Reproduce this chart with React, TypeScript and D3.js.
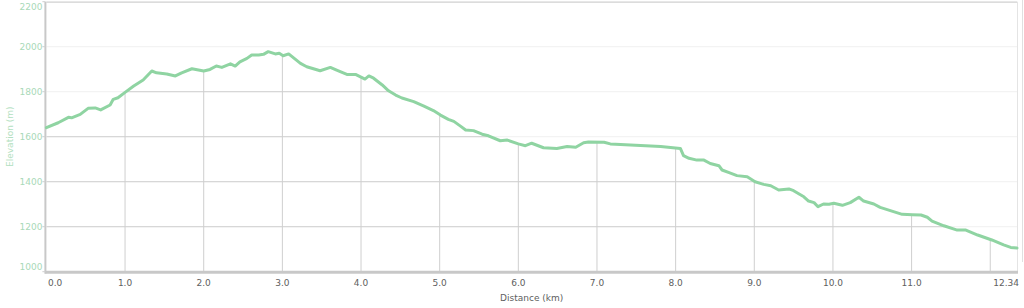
import React from "react";
import * as d3 from "d3";

const distanceKm = [
  0, 0.15, 0.28, 0.32, 0.43, 0.53, 0.62, 0.69, 0.81, 0.85, 0.91, 1.0, 1.11, 1.23, 1.34, 1.4, 1.53, 1.64,
  1.72, 1.85, 2.0, 2.08, 2.16, 2.23, 2.34, 2.4, 2.46, 2.55, 2.61, 2.7, 2.76, 2.82, 2.91, 2.96, 3.01, 3.08,
  3.23, 3.31, 3.48, 3.61, 3.69, 3.82, 3.93, 4.05, 4.1, 4.16, 4.27, 4.35, 4.44, 4.52, 4.67, 4.8, 4.92, 5.01,
  5.11, 5.18, 5.26, 5.33, 5.43, 5.54, 5.62, 5.77, 5.86, 6.0, 6.09, 6.17, 6.32, 6.49, 6.62, 6.73, 6.83, 6.89,
  7.09, 7.17, 7.81, 8.06, 8.1, 8.17, 8.27, 8.36, 8.44, 8.55, 8.59, 8.68, 8.78, 8.91, 9.01, 9.12, 9.21, 9.31,
  9.44, 9.5, 9.63, 9.69, 9.76, 9.81, 9.88, 9.95, 10.01, 10.12, 10.22, 10.33, 10.39, 10.52, 10.6, 10.77,
  10.88, 11.01, 11.12, 11.2, 11.26, 11.41, 11.58, 11.69, 11.84, 12.02, 12.17, 12.26, 12.34,
];
const elevationM = [
  1640, 1662, 1686, 1684, 1699, 1726, 1728, 1719, 1741, 1766, 1773, 1797, 1825, 1852, 1892, 1884, 1879, 1870,
  1884, 1902, 1892, 1899, 1914, 1908, 1924, 1914, 1933, 1948, 1963, 1963, 1966, 1978, 1968, 1971, 1960, 1968,
  1926, 1911, 1893, 1908, 1896, 1877, 1877, 1856, 1870, 1860, 1830, 1804, 1785, 1772, 1756, 1736, 1716, 1696,
  1677, 1668, 1648, 1630, 1627, 1611, 1604, 1582, 1585, 1568, 1560, 1571, 1551, 1548, 1556, 1553, 1573, 1576,
  1575, 1568, 1556, 1548, 1516, 1504, 1496, 1496, 1481, 1471, 1452, 1440, 1427, 1422, 1400, 1388, 1382, 1363,
  1368, 1360, 1333, 1314, 1307, 1289, 1301, 1300, 1304, 1295, 1307, 1331, 1314, 1301, 1286, 1267,
  1255, 1253, 1252, 1242, 1225, 1204, 1185, 1185, 1163, 1141, 1119, 1108, 1105,
];
const xTicks = [0, 1, 2, 3, 4, 5, 6, 7, 8, 9, 10, 11];
const xDropLines = [1, 2, 3, 4, 5, 6, 7, 8, 9, 10, 11, 12];
const xEndLabel = "12.34";
const yTicks = [1000, 1200, 1400, 1600, 1800, 2000, 2200];
const xTitle = "Distance (km)";
const yTitle = "Elevation (m)";

export default function App() {
  const W = 1024, H = 308;
  const L = 46.4, R = 1017, T = 1.7, B = 271.7;
  const x = d3.scaleLinear().domain([0, 12.34]).range([L, R]);
  const y = d3.scaleLinear().domain([1000, 2200]).range([B, T]);
  const pts: [number, number][] = distanceKm.map((d, i) => [d, elevationM[i]]);
  const line = d3.line<[number, number]>().x((d) => x(d[0])).y((d) => y(d[1]));
  const area = d3
    .area<[number, number]>()
    .x((d) => x(d[0]))
    .y0(B)
    .y1((d) => y(d[1]));
  const interp = (k: number) => {
    const i = d3.bisectLeft(distanceKm, k);
    if (i <= 0) return elevationM[0];
    if (i >= distanceKm.length) return elevationM[elevationM.length - 1];
    const x0 = distanceKm[i - 1], x1 = distanceKm[i];
    const t = (k - x0) / (x1 - x0);
    return elevationM[i - 1] + t * (elevationM[i] - elevationM[i - 1]);
  };
  const font = "'DejaVu Sans', Verdana, sans-serif";
  const fmt = d3.format(".1f");
  return (
    <div style={{ position: "absolute", left: 0, top: 0 }}>
      <svg width={W} height={H} style={{ display: "block", background: "#fff" }}>
        <defs>
          <clipPath id="under">
            <path d={area(pts) || ""} />
          </clipPath>
        </defs>
        {/* faint gridlines */}
        {yTicks.map((t) => (
          <line key={"g" + t} x1={L} x2={R} y1={y(t)} y2={y(t)} stroke="#f0f0f0" strokeWidth={1} />
        ))}
        {/* darker gridlines below the profile */}
        <g clipPath="url(#under)">
          {yTicks.map((t) => (
            <line key={"d" + t} x1={L} x2={R} y1={y(t)} y2={y(t)} stroke="#d0d0d0" strokeWidth={1} />
          ))}
        </g>
        {/* drop lines */}
        {xDropLines.map((k) => (
          <line key={"v" + k} x1={x(k)} x2={x(k)} y1={y(interp(k))} y2={B} stroke="#cfcfcf" strokeWidth={1} />
        ))}
        {/* borders */}
        <line x1={L} x2={R} y1={T + 0.5} y2={T + 0.5} stroke="#dcdcdc" strokeWidth={1.5} />
        <line x1={R + 0.5} x2={R + 0.5} y1={T} y2={B} stroke="#e4e4e4" strokeWidth={1} />
        <line x1={1022.5} x2={1022.5} y1={0} y2={262} stroke="#e0e0e0" strokeWidth={1} />
        <line x1={L - 1} x2={L - 1} y1={T} y2={B + 2} stroke="#c8c8c8" strokeWidth={2} />
        <line x1={L - 1} x2={R + 1} y1={B + 0.5} y2={B + 0.5} stroke="#c8c8c8" strokeWidth={3} />
        {/* y ticks */}
        {yTicks.map((t) => {
          let ly = y(t);
          if (t === 2200) ly = 7;
          if (t === 1000) ly = 266.7;
          return (
            <g key={"yt" + t}>
              <line x1={L - 4} x2={L - 1} y1={y(t)} y2={y(t)} stroke="#cfcfcf" strokeWidth={1} />
              <text x={42.5} y={ly} textAnchor="end" dominantBaseline="central" fontFamily={font} fontSize={9} fill="#a9d9b8">
                {t}
              </text>
            </g>
          );
        })}
        <text
          transform={`translate(10,${(T + B) / 2}) rotate(-90)`}
          textAnchor="middle"
          dominantBaseline="central"
          fontFamily={font}
          fontSize={9}
          fill="#b3dfc1"
        >
          {yTitle}
        </text>
        {/* x labels */}
        {xTicks.map((k) => (
          <text
            key={"xt" + k}
            x={k === 0 ? 48 : x(k)}
            y={283}
            textAnchor={k === 0 ? "start" : "middle"}
            dominantBaseline="central"
            fontFamily={font}
            fontSize={9}
            fill="#606060"
          >
            {fmt(k)}
          </text>
        ))}
        <text x={1019} y={283} textAnchor="end" dominantBaseline="central" fontFamily={font} fontSize={9} fill="#606060">
          {xEndLabel}
        </text>
        <text x={(L + R) / 2} y={297.5} textAnchor="middle" dominantBaseline="central" fontFamily={font} fontSize={9} fill="#606060">
          {xTitle}
        </text>
        {/* profile line */}
        <path d={line(pts) || ""} fill="none" stroke="#8fd4a2" strokeWidth={3} strokeLinejoin="round" strokeLinecap="round" />
      </svg>
    </div>
  );
}
